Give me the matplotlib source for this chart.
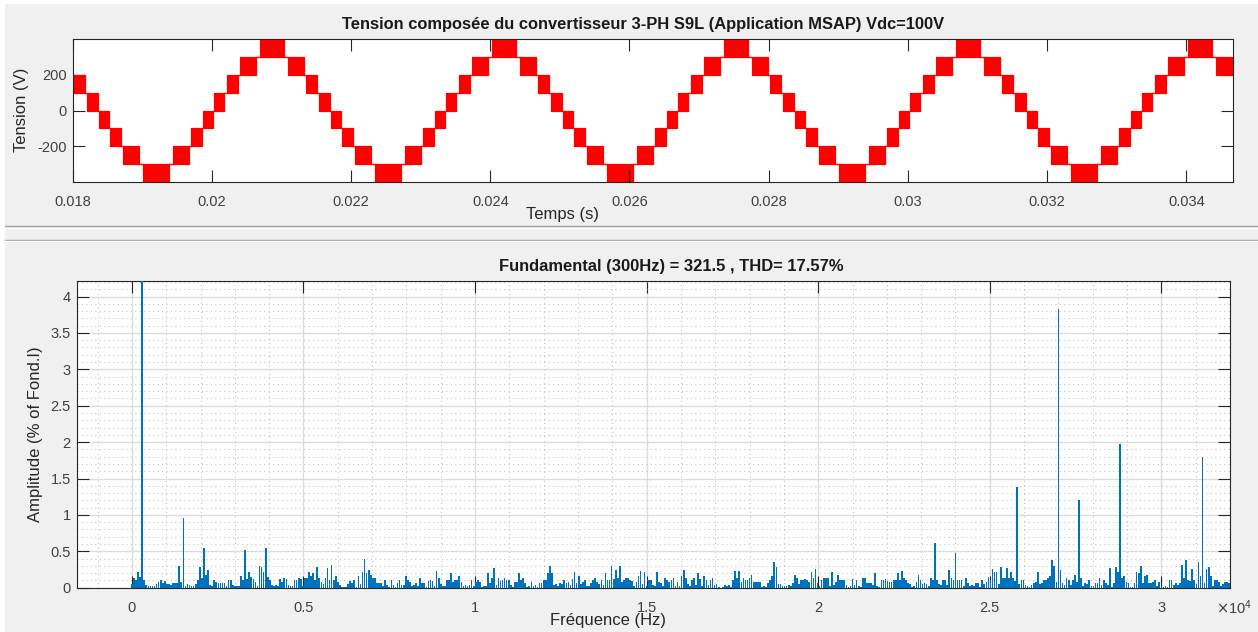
import numpy as np
import matplotlib.pyplot as plt
from matplotlib.lines import Line2D
from matplotlib.patches import Rectangle
from matplotlib.ticker import MultipleLocator, FuncFormatter

plt.rcParams['font.family'] = ['Liberation Sans', 'DejaVu Sans']
plt.rcParams['axes.unicode_minus'] = False

W, H = 1258, 632

# ---- tension composee : bandes de commutation sur une periode ----
f0 = 300.0                 # Hz
T = 1.0 / f0
t_creux = 0.01919          # instant du premier creux (s)
t_min, t_max = 0.018, 0.018 + 5 * T
band_lo = [-400, -300, -200, -100, 0, 100, 200, 300]      # niveau bas de chaque bande (V)
band_start_us = [0, 244, 503, 675, 833, 1020, 1207, 1494]  # debut de bande apres le creux (us)
band_end_us = [187, 474, 661, 819, 991, 1178, 1437, 1667]  # fin de bande apres le creux (us)
pas_niveau = 100

# ---- spectre : amplitude (% du fondamental) par raie de 60 Hz ----
df = 60.0
amp = [
    0.05, 0.13, 0.11, 0.22, 0.15, 100.0, 0.10, 0.04, 0.03, 0.02,
    0.02, 0.03, 0.05, 0.08, 0.11, 0.07, 0.09, 0.05, 0.05, 0.04,
    0.07, 0.07, 0.07, 0.30, 0.08, 0.96, 0.03, 0.05, 0.04, 0.02,
    0.02, 0.05, 0.10, 0.28, 0.14, 0.54, 0.17, 0.24, 0.04, 0.02,
    0.10, 0.08, 0.07, 0.06, 0.07, 0.06, 0.03, 0.11, 0.10, 0.04,
    0.03, 0.02, 0.02, 0.16, 0.10, 0.52, 0.12, 0.21, 0.15, 0.12,
    0.08, 0.03, 0.30, 0.28, 0.22, 0.54, 0.15, 0.10, 0.04, 0.03,
    0.04, 0.03, 0.12, 0.08, 0.14, 0.12, 0.04, 0.02, 0.03, 0.10,
    0.10, 0.13, 0.12, 0.02, 0.13, 0.14, 0.22, 0.16, 0.20, 0.10,
    0.29, 0.14, 0.08, 0.05, 0.14, 0.27, 0.10, 0.31, 0.10, 0.16,
    0.08, 0.04, 0.01, 0.01, 0.01, 0.05, 0.09, 0.07, 0.11, 0.01,
    0.16, 0.05, 0.21, 0.39, 0.20, 0.25, 0.17, 0.14, 0.13, 0.06,
    0.06, 0.06, 0.03, 0.11, 0.04, 0.01, 0.11, 0.04, 0.01, 0.06,
    0.11, 0.04, 0.04, 0.16, 0.11, 0.08, 0.03, 0.04, 0.07, 0.02,
    0.14, 0.06, 0.07, 0.01, 0.09, 0.10, 0.09, 0.02, 0.23, 0.13,
    0.05, 0.02, 0.03, 0.10, 0.10, 0.20, 0.08, 0.10, 0.11, 0.16,
    0.08, 0.03, 0.04, 0.03, 0.04, 0.10, 0.02, 0.08, 0.10, 0.08,
    0.01, 0.02, 0.02, 0.20, 0.07, 0.14, 0.27, 0.04, 0.13, 0.09,
    0.10, 0.14, 0.10, 0.11, 0.04, 0.01, 0.08, 0.08, 0.20, 0.10,
    0.13, 0.06, 0.01, 0.03, 0.08, 0.02, 0.04, 0.01, 0.06, 0.07,
    0.10, 0.10, 0.20, 0.30, 0.20, 0.04, 0.05, 0.02, 0.06, 0.05,
    0.10, 0.07, 0.08, 0.04, 0.12, 0.21, 0.06, 0.16, 0.05, 0.08,
    0.10, 0.02, 0.03, 0.06, 0.10, 0.14, 0.08, 0.05, 0.10, 0.04,
    0.20, 0.11, 0.10, 0.30, 0.12, 0.25, 0.14, 0.30, 0.08, 0.10,
    0.13, 0.14, 0.11, 0.09, 0.03, 0.08, 0.16, 0.23, 0.05, 0.22,
    0.02, 0.10, 0.11, 0.04, 0.03, 0.21, 0.08, 0.07, 0.02, 0.14,
    0.11, 0.08, 0.10, 0.14, 0.02, 0.08, 0.03, 0.16, 0.24, 0.14,
    0.05, 0.02, 0.10, 0.13, 0.04, 0.20, 0.12, 0.02, 0.16, 0.11,
    0.04, 0.10, 0.13, 0.04, 0.05, 0.01, 0.00, 0.01, 0.04, 0.02,
    0.04, 0.01, 0.10, 0.23, 0.14, 0.23, 0.08, 0.13, 0.11, 0.10,
    0.14, 0.17, 0.08, 0.08, 0.08, 0.08, 0.01, 0.02, 0.01, 0.07,
    0.10, 0.16, 0.35, 0.29, 0.05, 0.05, 0.02, 0.02, 0.02, 0.04,
    0.03, 0.07, 0.18, 0.13, 0.05, 0.10, 0.11, 0.12, 0.11, 0.08,
    0.21, 0.14, 0.26, 0.06, 0.02, 0.10, 0.13, 0.13, 0.14, 0.03,
    0.21, 0.04, 0.08, 0.17, 0.10, 0.10, 0.11, 0.04, 0.01, 0.02,
    0.12, 0.04, 0.11, 0.03, 0.01, 0.13, 0.13, 0.06, 0.06, 0.06,
    0.04, 0.20, 0.02, 0.01, 0.10, 0.10, 0.12, 0.09, 0.08, 0.08,
    0.11, 0.10, 0.20, 0.10, 0.23, 0.14, 0.10, 0.06, 0.05, 0.01,
    0.03, 0.08, 0.17, 0.11, 0.05, 0.06, 0.05, 0.02, 0.14, 0.10,
    0.62, 0.10, 0.05, 0.04, 0.10, 0.10, 0.04, 0.24, 0.14, 0.11,
    0.48, 0.10, 0.10, 0.10, 0.03, 0.14, 0.06, 0.03, 0.04, 0.03,
    0.06, 0.06, 0.01, 0.10, 0.05, 0.08, 0.15, 0.11, 0.26, 0.21,
    0.21, 0.05, 0.28, 0.13, 0.14, 0.27, 0.13, 0.21, 0.14, 0.09,
    1.38, 0.05, 0.10, 0.11, 0.04, 0.02, 0.01, 0.04, 0.06, 0.08,
    0.21, 0.05, 0.06, 0.10, 0.11, 0.14, 0.16, 0.38, 0.30, 0.08,
    3.83, 0.25, 0.06, 0.04, 0.13, 0.10, 0.04, 0.10, 0.17, 0.08,
    1.21, 0.13, 0.03, 0.07, 0.05, 0.10, 0.02, 0.02, 0.06, 0.06,
    0.13, 0.04, 0.10, 0.06, 0.04, 0.27, 0.01, 0.06, 0.28, 0.21,
    1.98, 0.13, 0.16, 0.08, 0.06, 0.01, 0.01, 0.06, 0.21, 0.20,
    0.30, 0.06, 0.16, 0.18, 0.06, 0.06, 0.08, 0.10, 0.03, 0.08,
    0.02, 0.01, 0.02, 0.01, 0.10, 0.10, 0.04, 0.06, 0.04, 0.06,
    0.31, 0.14, 0.38, 0.10, 0.09, 0.26, 0.10, 0.05, 0.35, 0.16,
    1.80, 0.06, 0.26, 0.29, 0.16, 0.02, 0.10, 0.10, 0.08, 0.02,
    0.05, 0.08, 0.08, 0.06,
]
freq = np.arange(len(amp)) * df
amp = np.array(amp)

C_TXT = '#262626'
C_TICK = '#404040'


def fx(px):
    return px / W


def fy(py):
    return 1 - py / H


fig = plt.figure(figsize=(W / 100, H / 100), dpi=100, facecolor='#f0f0f0')

# bords des panneaux
fig.add_artist(Rectangle((0, fy(4)), 1, 4 / H, transform=fig.transFigure, color='white', lw=0))
fig.add_artist(Rectangle((0, 0), fx(5), 1, transform=fig.transFigure, color='white', lw=0))
for y, c in [(226, '#a0a0a0'), (227.5, 'white'), (240, '#a0a0a0'), (241.5, 'white')]:
    fig.add_artist(Line2D([fx(5), 1], [fy(y), fy(y)], transform=fig.transFigure, color=c, lw=1))

# ================= tension composee =================
ax1 = fig.add_axes([fx(72.7), fy(182), fx(1160), 143 / H])

# construction des segments (bande entre deux niveaux ou palier)
segs = []
for k in range(-1, 7):
    tc = t_creux + k * T
    # montee apres le creux
    for i in range(len(band_lo)):
        segs.append((tc + band_start_us[i] * 1e-6, tc + band_end_us[i] * 1e-6,
                     band_lo[i], band_lo[i] + pas_niveau))
        if i + 1 < len(band_lo):
            segs.append((tc + band_end_us[i] * 1e-6, tc + band_start_us[i + 1] * 1e-6,
                         band_lo[i + 1], band_lo[i + 1]))
    # descente avant le creux (symetrique)
    for i in range(len(band_lo)):
        segs.append((tc - band_end_us[i] * 1e-6, tc - band_start_us[i] * 1e-6,
                     band_lo[i], band_lo[i] + pas_niveau))
        if i + 1 < len(band_lo):
            segs.append((tc - band_start_us[i + 1] * 1e-6, tc - band_end_us[i] * 1e-6,
                         band_lo[i + 1], band_lo[i + 1]))
segs.sort()
tt, lo, hi = [], [], []
for a, b, l, h in segs:
    tt += [a, b]
    lo += [l, l]
    hi += [h, h]
tt, lo, hi = np.array(tt), np.array(lo), np.array(hi)

ax1.fill_between(tt, lo, hi, color='#ff0000', lw=0.8, edgecolor='#ff0000')
ax1.plot(tt, lo, color='#ff0000', lw=0.8)
ax1.plot(tt, hi, color='#ff0000', lw=0.8)

ax1.set_xlim(t_min, t_max)
ax1.set_ylim(-400, 400)
ax1.set_xticks(np.arange(0.018, 0.0341, 0.002))
ax1.xaxis.set_major_formatter(FuncFormatter(lambda v, p: f'{v:.3f}'.rstrip('0')))
ax1.set_yticks([-200, 0, 200])
ax1.set_facecolor('white')

# ================= spectre =================
ax2 = fig.add_axes([fx(77), fy(587.7), fx(1153), 306.7 / H])
ax2.set_axisbelow(True)
ax2.bar(freq, amp, width=0.8 * df, color='#0072BD', lw=0, zorder=3)
ax2.set_xlim(-1600, 32000)
ax2.set_ylim(0, 1.1 * amp[amp < 50].max())
ax2.xaxis.set_major_locator(MultipleLocator(5000))
ax2.xaxis.set_minor_locator(MultipleLocator(1000))
ax2.yaxis.set_major_locator(MultipleLocator(0.5))
ax2.yaxis.set_minor_locator(MultipleLocator(0.1))
ax2.xaxis.set_major_formatter(FuncFormatter(lambda v, p: f'{v / 1e4:g}'))
ax2.yaxis.set_major_formatter(FuncFormatter(lambda v, p: f'{v:g}'))
ax2.grid(which='major', color='#dcdcdc', lw=1.0)
ax2.grid(which='minor', color='#c4c4c4', lw=0.8, ls=(0, (1, 3)))
ax2.set_facecolor('white')

for ax in (ax1, ax2):
    for s in ax.spines.values():
        s.set_color(C_TXT)
        s.set_linewidth(0.8)
    ax.tick_params(which='major', direction='in', top=True, right=True, length=8.4,
                   width=0.8, color=C_TXT, labelsize=10.5, labelcolor=C_TICK)
    ax.tick_params(axis='x', pad=9.5)
    ax.tick_params(axis='y', pad=4.5)
    ax.tick_params(which='minor', length=0)

# textes
fig.text(fx(643), fy(24), 'Tension composée du convertisseur 3-PH S9L (Application MSAP) Vdc=100V',
         ha='center', va='center', fontsize=11.9, fontweight='bold', color='#1a1a1a')
fig.text(fx(563), fy(214), 'Temps (s)', ha='center', va='center', fontsize=12, color=C_TXT)
fig.text(fx(22), fy(110), 'Tension (V)', ha='center', va='center', rotation=90, fontsize=12, color=C_TXT)

fig.text(fx(671), fy(266), 'Fundamental (300Hz) = 321.5 , THD= 17.57%',
         ha='center', va='center', fontsize=11.9, fontweight='bold', color='#1a1a1a')
fig.text(fx(608), fy(621), 'Fréquence (Hz)', ha='center', va='center', fontsize=12, color=C_TXT)
fig.text(fx(36), fy(434), 'Amplitude (% of Fond.I)', ha='center', va='center', rotation=90,
         fontsize=12, color=C_TXT)
fig.text(fx(1216), fy(608), r'$\times\mathregular{10^{4}}$', ha='left', va='center',
         fontsize=10.5, color=C_TICK)

fig.savefig('out.png', dpi=100, facecolor=fig.get_facecolor())
